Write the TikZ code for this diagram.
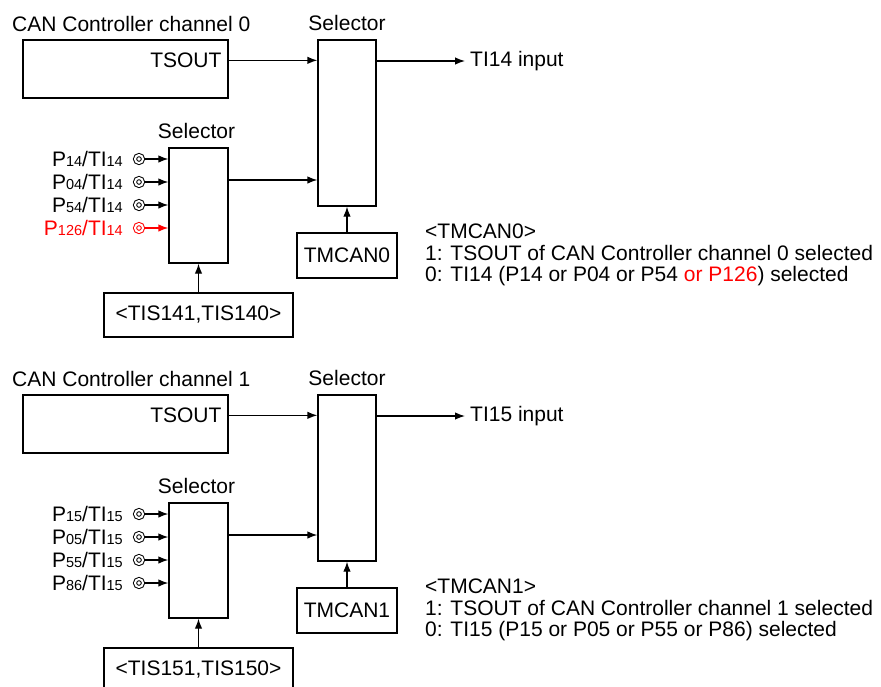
\documentclass[tikz,border=0pt]{standalone}
\usepackage{fontspec}
\setmainfont{Liberation Sans}
\usetikzlibrary{arrows.meta}

% small numbers after P and TI
\newcommand\pnum[1]{{\fontsize{14.5}{14.5}\selectfont #1}}
\newcommand\pinlbl[2]{P\pnum{#1}/TI\pnum{#2}}

\tikzset{
  blk/.style={draw,line width=1.3pt,inner sep=0pt},
  txt/.style={inner sep=0pt},
  conn/.style={line width=1.3pt,-{Latex[length=10pt,width=7.5pt]}},
  ring/.style={circle,draw,line width=1pt,double,double distance=2pt,
    minimum size=8pt,inner sep=0pt}
}

\begin{document}
\begin{tikzpicture}[x=1pt,y=-1pt,line cap=butt,line join=miter,
  font=\fontsize{21}{21.5}\selectfont]
  \useasboundingbox (0,0) rectangle (881,686);
  \clip (0,0) rectangle (881,686);

  % channel 0
  \node[txt,anchor=base west] (title0) at (12,31) {CAN Controller channel 0};
  \node[blk,minimum width=205pt,minimum height=58pt] (tsout0) at (125.5,69) {};
  \node[txt,anchor=east,inner xsep=7pt] (tslbl0) at ([yshift=-21pt]tsout0.north east) {TSOUT};
  \node[blk,minimum width=58pt,minimum height=166pt] (sel0) at (347,123) {};
  \node[txt,anchor=base] (sellbl0) at ([yshift=9pt]sel0.north) {Selector};
  \node[txt,anchor=west,inner xsep=5pt] (out0) at (465,61) {TI14 input};
  \draw[conn] (tslbl0.east) -- (tslbl0.east -| sel0.west);
  \draw[conn] (sel0.east |- out0) -- (out0.west);

  \node[blk,minimum width=59pt,minimum height=115pt] (ssel0) at (198.5,205.5) {};
  \node[txt,anchor=base] (ssellbl0) at ([xshift=-2pt,yshift=9pt]ssel0.north) {Selector};
  \foreach \k/\y/\a/\c in {a/159/14/black,b/182/04/black,c/205/54/black,d/228/126/red}{
    \node[ring,draw=\c] (r0\k) at (139,\y) {};
    \node[txt,anchor=east,text=\c] (l0\k) at (123,\y) {\pinlbl{\a}{14}};
    \draw[conn,draw=\c] (r0\k) -- (r0\k -| ssel0.west);
  }
  \coordinate (m0) at ([yshift=25.5pt]ssel0.east);
  \draw[conn] (m0) -- (m0 -| sel0.west);

  \node[blk,minimum width=100pt,minimum height=45pt] (tm0) at (347,255.5) {TMCAN0};
  \draw[conn] (tm0) -- (sel0);
  \node[blk,minimum width=189pt,minimum height=44pt] (tis0) at (198.5,315) {<TIS141,TIS140>};
  \draw[conn] (tis0) -- (ssel0);

  \node[txt,anchor=base west] (note0a) at (425,238.5) {<TMCAN0>};
  \node[txt,anchor=base west] (note0b) at (425,260) {1: TSOUT of CAN Controller channel 0 selected};
  \node[txt,anchor=base west] (note0c) at (425,281.5) {0: TI14 (P14 or P04 or P54 \textcolor{red}{or P126}) selected};

  % channel 1
  \begin{scope}[yshift=-355pt]
  \node[txt,anchor=base west] (title1) at (12,31) {CAN Controller channel 1};
  \node[blk,minimum width=205pt,minimum height=58pt] (tsout1) at (125.5,69) {};
  \node[txt,anchor=east,inner xsep=7pt] (tslbl1) at ([yshift=-21pt]tsout1.north east) {TSOUT};
  \node[blk,minimum width=58pt,minimum height=166pt] (sel1) at (347,123) {};
  \node[txt,anchor=base] (sellbl1) at ([yshift=9pt]sel1.north) {Selector};
  \node[txt,anchor=west,inner xsep=5pt] (out1) at (465,61) {TI15 input};
  \draw[conn] (tslbl1.east) -- (tslbl1.east -| sel1.west);
  \draw[conn] (sel1.east |- out1) -- (out1.west);

  \node[blk,minimum width=59pt,minimum height=115pt] (ssel1) at (198.5,205.5) {};
  \node[txt,anchor=base] (ssellbl1) at ([xshift=-2pt,yshift=9pt]ssel1.north) {Selector};
  \foreach \k/\y/\a in {a/159/15,b/182/05,c/205/55,d/228/86}{
    \node[ring] (r1\k) at (139,\y) {};
    \node[txt,anchor=east] (l1\k) at (123,\y) {\pinlbl{\a}{15}};
    \draw[conn] (r1\k) -- (r1\k -| ssel1.west);
  }
  \coordinate (m1) at ([yshift=25.5pt]ssel1.east);
  \draw[conn] (m1) -- (m1 -| sel1.west);

  \node[blk,minimum width=100pt,minimum height=45pt] (tm1) at (347,255.5) {TMCAN1};
  \draw[conn] (tm1) -- (sel1);
  \node[blk,minimum width=189pt,minimum height=44pt] (tis1) at (198.5,315) {<TIS151,TIS150>};
  \draw[conn] (tis1) -- (ssel1);

  \node[txt,anchor=base west] (note1a) at (425,238.5) {<TMCAN1>};
  \node[txt,anchor=base west] (note1b) at (425,260) {1: TSOUT of CAN Controller channel 1 selected};
  \node[txt,anchor=base west] (note1c) at (425,281.5) {0: TI15 (P15 or P05 or P55 or P86) selected};
  \end{scope}
\end{tikzpicture}
\end{document}
